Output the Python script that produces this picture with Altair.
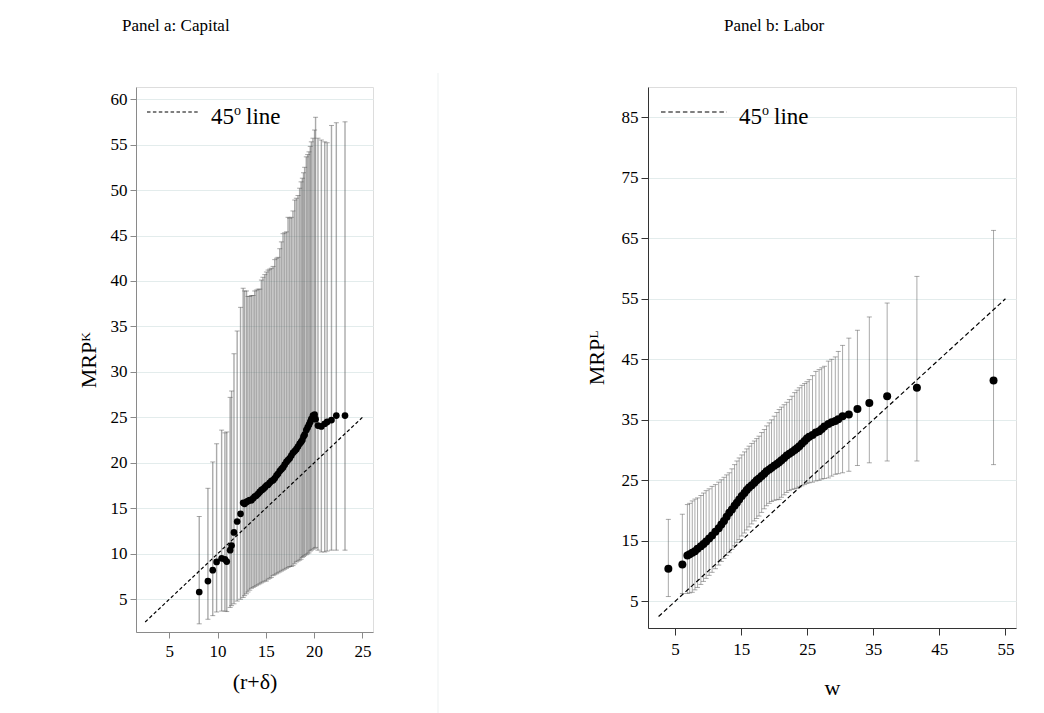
import altair as alt
import pandas as pd

# Panel a: capital — marginal revenue product vs. user cost (r+delta)
cap_x = [8.1, 9.0, 9.5, 9.9, 10.42, 10.76, 10.95, 11.3, 11.45, 11.7, 12.03, 12.38,
         12.65, 12.8, 13.0, 13.15, 13.33, 13.5, 13.68, 13.85, 14.02, 14.2, 14.37, 14.54,
         14.7, 14.89, 15.06, 15.23, 15.4, 15.57, 15.75, 15.92, 16.1, 16.26, 16.44, 16.61,
         16.78, 16.95, 17.13, 17.3, 17.47, 17.64, 17.81, 17.99, 18.16, 18.33, 18.5, 18.65,
         18.78, 18.9, 19.02, 19.19, 19.33, 19.47, 19.6, 19.71, 19.88,
         20.05, 20.15, 20.4, 20.75, 21.1, 21.35, 21.8, 22.3, 23.2]
cap_est = [5.8, 7.0, 8.2, 9.1, 9.5, 9.4, 9.15, 10.4, 10.9, 12.35, 13.55, 14.4,
           15.6, 15.5, 15.7, 15.8, 15.9, 15.9, 16.1, 16.3, 16.4, 16.6, 16.8, 17.0,
           17.1, 17.3, 17.5, 17.6, 17.8, 18.0, 18.1, 18.3, 18.6, 18.8, 19.1, 19.3,
           19.5, 19.8, 20.1, 20.3, 20.5, 20.8, 21.1, 21.3, 21.5, 21.8, 22.1, 22.3,
           22.5, 22.9, 23.1, 23.6, 23.9, 24.2, 24.5, 24.8, 25.2,
           25.3, 24.8, 24.1, 24.0, 24.3, 24.5, 24.7, 25.2, 25.2]
cap_lo = [2.3, 2.8, 3.2, 3.6, 3.7, 3.7, 3.65, 4.1, 4.3, 4.5, 4.8, 5.0,
          5.2, 5.4, 5.6, 5.8, 6.0, 6.2, 6.3, 6.4, 6.5, 6.6, 6.7, 6.8,
          6.9, 7.0, 7.0, 7.2, 7.3, 7.4, 7.6, 7.7, 7.8, 7.9, 8.0, 8.1,
          8.2, 8.3, 8.4, 8.5, 8.6, 8.6, 8.7, 8.9, 9.1, 9.2, 9.3, 9.4,
          9.6, 9.7, 9.8, 9.9, 10.0, 10.1, 10.3, 10.4, 10.5,
          10.6, 10.7, 10.4, 10.2, 10.2, 10.3, 10.4, 10.4, 10.4]
cap_hi = [14.1, 17.2, 20.1, 22.1, 23.6, 23.3, 23.4, 27.2, 27.9, 32.0, 34.5, 37.1,
          39.2, 38.9, 38.9, 38.3, 38.3, 38.4, 38.4, 38.9, 39.0, 39.1, 39.1, 40.1,
          40.4, 40.7, 41.0, 41.2, 41.3, 41.4, 41.6, 42.35, 42.5, 42.6, 43.55, 44.3,
          45.2, 45.3, 45.4, 47.0, 46.9, 47.0, 47.7, 48.9, 49.1, 49.4, 50.2, 50.9,
          51.3, 51.9, 52.5, 53.65, 53.9, 54.2, 54.8, 55.3, 55.7,
          56.6, 58.0, 55.7, 55.5, 55.3, 55.2, 57.1, 57.4, 57.5]

# Panel b: labor — marginal revenue product vs. wage w
lab_x = [3.98, 6.1,
         6.86, 7.2, 7.6, 8.0, 8.4, 8.9, 9.3, 9.7, 10.15, 10.6, 11.1, 11.6, 12.0, 12.4,
         12.8, 13.2, 13.6, 14.0, 14.35, 14.7, 15.1, 15.5, 15.85, 16.2, 16.6, 17.0,
         17.35, 17.7, 18.1, 18.5, 18.85, 19.25, 19.6, 20.0, 20.4, 20.75, 21.1, 21.5,
         21.9, 22.3, 22.7, 23.1, 23.45, 23.8, 24.2, 24.6, 24.95, 25.3, 25.8, 26.3,
         26.8, 27.2, 27.6, 28.2, 28.7, 29.25, 29.7,
         30.35, 31.3, 32.6, 34.4, 37.1, 41.6, 53.2]
lab_est = [10.4, 11.1,
           12.6, 12.8, 13.05, 13.3, 13.7, 14.1, 14.5, 14.9, 15.4, 15.9, 16.5, 17.1, 17.7, 18.3,
           19.0, 19.65, 20.2, 20.8, 21.3, 21.85, 22.4, 22.9, 23.4, 23.8, 24.2, 24.6,
           25.0, 25.3, 25.7, 26.1, 26.5, 26.8, 27.1, 27.4, 27.7, 28.0, 28.3, 28.7,
           29.1, 29.4, 29.7, 30.0, 30.3, 30.65, 31.1, 31.5, 31.9, 32.2, 32.5, 32.9,
           33.1, 33.5, 33.9, 34.3, 34.6, 34.8, 35.1,
           35.6, 35.9, 36.8, 37.8, 38.9, 40.3, 41.5]
lab_lo = [5.8, 6.3,
          6.3, 6.4, 6.5, 6.9, 7.3, 7.8, 8.3, 8.8, 9.3, 9.8, 10.4, 11.0, 11.6, 12.1,
          12.6, 13.05, 13.6, 14.2, 14.7, 15.2, 15.8, 16.3, 16.8, 17.3, 17.8, 18.3,
          18.7, 19.1, 19.7, 20.3, 20.8, 21.2, 21.5, 21.7, 21.8, 21.85, 22.2, 22.6,
          23.0, 23.3, 23.5, 23.6, 23.7, 23.9, 24.1, 24.3, 24.5, 24.6, 24.7, 24.9,
          25.0, 25.2, 25.3, 25.4, 25.7, 26.0, 26.1,
          26.25, 26.5, 27.45, 27.9, 28.2, 28.2, 27.6]
lab_hi = [18.55, 19.4,
          21.0, 21.2, 21.6, 21.9, 22.1, 22.5, 22.9, 23.3, 23.6, 24.0, 24.3, 24.7, 25.1, 25.5,
          25.9, 26.25, 26.9, 27.6, 28.2, 28.7, 29.2, 29.7, 30.2, 30.65, 31.1, 31.5,
          31.9, 32.3, 32.9, 33.4, 34.0, 34.5, 35.0, 35.6, 36.2, 36.7, 37.1, 37.5,
          37.9, 38.35, 38.9, 39.5, 39.9, 40.3, 40.7, 41.0, 41.3, 41.65, 42.3, 43.0,
          43.3, 43.6, 43.85, 44.7, 45.0, 45.4, 46.3,
          47.3, 48.5, 49.8, 52.0, 54.3, 58.7, 66.3]

# 45-degree reference lines
diag_a = [2.5, 25]
diag_b = [2.5, 55]

cap_xticks = [5, 10, 15, 20, 25]
cap_yticks = [5, 10, 15, 20, 25, 30, 35, 40, 45, 50, 55, 60]
lab_xticks = [5, 15, 25, 35, 45, 55]
lab_yticks = [5, 15, 25, 35, 45, 55, 65, 75, 85]

SERIF = "Liberation Serif"
BAR = "#555555"


def panel(xs, est, lo, hi, diag, xdom, ydom, xticks, yticks, w, h,
          xtitle, ytitle, title, title_dx, title_offset, axis_color, dot_size,
          dash, leg, x_title_pad, y_title_pad, bar_width, tick_size, x_label_pad,
          divider=None):
    df = pd.DataFrame({"x": xs, "y": est, "lo": lo, "hi": hi})
    dd = pd.DataFrame({"x": diag, "y": diag})
    one = pd.DataFrame({"k": [0]})

    xaxis = alt.Axis(values=xticks, grid=False, domainColor=axis_color,
                     tickColor=axis_color, tickSize=tick_size, labelFont=SERIF,
                     labelFontSize=17, labelColor="black", labelPadding=x_label_pad,
                     titleFont=SERIF, titleFontSize=22, titleFontWeight="normal",
                     titleColor="black", titlePadding=x_title_pad)
    yaxis = alt.Axis(values=yticks, grid=True, gridColor="#e3ecec",
                     domainColor=axis_color, tickColor=axis_color,
                     tickSize=tick_size, labelFont=SERIF, labelFontSize=17,
                     labelColor="black", labelPadding=3, titleFont=SERIF,
                     titleFontSize=22, titleFontWeight="normal", titleColor="black",
                     titlePadding=y_title_pad)
    xs_ = alt.Scale(domain=xdom, nice=False, zero=False)
    ys_ = alt.Scale(domain=ydom, nice=False, zero=False)

    def X(f):
        return alt.X(f"{f}:Q", scale=xs_, axis=xaxis, title=xtitle)

    def Y(f):
        return alt.Y(f"{f}:Q", scale=ys_, axis=yaxis, title=ytitle)

    base = alt.Chart(df)
    bars = base.mark_rule(color=BAR, opacity=0.5, strokeWidth=bar_width).encode(
        x=X("x"), y=Y("lo"), y2="hi")
    cap_top = base.mark_tick(orient="horizontal", color=BAR, opacity=0.5,
                             size=5, thickness=1).encode(x=X("x"), y=Y("hi"))
    cap_bot = base.mark_tick(orient="horizontal", color=BAR, opacity=0.5,
                             size=5, thickness=1).encode(x=X("x"), y=Y("lo"))
    line45 = alt.Chart(dd).mark_line(color="black", strokeDash=dash,
                                     strokeWidth=1.2).encode(x=X("x"), y=Y("y"))
    dots = base.mark_circle(color="black", opacity=1, size=dot_size).encode(
        x=X("x"), y=Y("y"))

    # in-plot key for the dashed 45-degree line
    lx0, lx1, ly, tx, tb = leg
    leg_line = alt.Chart(one).mark_rule(color="black", strokeDash=dash,
                                        strokeWidth=1.2).encode(
        x=alt.value(lx0), x2=alt.value(lx1), y=alt.value(ly))
    leg_45 = alt.Chart(pd.DataFrame({"t": ["45"]})).mark_text(
        align="left", baseline="alphabetic", font=SERIF, fontSize=23,
        color="black").encode(text="t:N", x=alt.value(tx), y=alt.value(tb))
    leg_o = alt.Chart(pd.DataFrame({"t": ["o"]})).mark_text(
        align="left", baseline="alphabetic", font=SERIF, fontSize=14,
        color="black").encode(text="t:N", x=alt.value(tx + 23), y=alt.value(tb - 9))
    leg_line_txt = alt.Chart(pd.DataFrame({"t": ["line"]})).mark_text(
        align="left", baseline="alphabetic", font=SERIF, fontSize=23,
        color="black").encode(text="t:N", x=alt.value(tx + 35), y=alt.value(tb))

    layers = [bars, cap_top, cap_bot, line45, dots, leg_line, leg_45, leg_o,
              leg_line_txt]
    if divider is not None:
        dx_, dy0 = divider
        layers.append(alt.Chart(one).mark_rule(color="#edf1f1", strokeWidth=1).encode(
            x=alt.value(dx_), y=alt.value(dy0), y2=alt.value(h + 90)))

    return alt.layer(*layers).properties(
        width=w, height=h,
        title=alt.TitleParams(title, font=SERIF, fontSize=17, fontWeight="normal",
                              color="black", anchor="start", frame="group",
                              dx=title_dx, offset=title_offset))


panel_a = panel(cap_x, cap_est, cap_lo, cap_hi, diag_a, [1.55, 26.1], [1.4, 61.33],
                cap_xticks, cap_yticks, 237, 545, "(r+δ)", "MRPᴷ",
                "Panel a: Capital", -14, 38, "#8a8a8a", 45, [3.5, 2.4],
                (11, 64, 25, 75, 37), 12, 10, 1.4, 6, 5, divider=(302, -14))
panel_b = panel(lab_x, lab_est, lab_lo, lab_hi, diag_b, [0.9, 56.6], [0.6, 90],
                lab_xticks, lab_yticks, 368, 541, "w", "MRPᴸ",
                "Panel b: Labor", 76, 52, "#333333", 64, [4.5, 2.8],
                (13, 79, 25, 91, 37), 20, 13, 1.0, 7, 6)

chart = alt.hconcat(panel_a, panel_b, spacing=145).properties(
    padding={"left": 76, "top": 16, "right": 5, "bottom": 5}
).configure_view(stroke=None).configure(background="white")

chart.save("out.html", embed_options={"renderer": "svg", "actions": False})
